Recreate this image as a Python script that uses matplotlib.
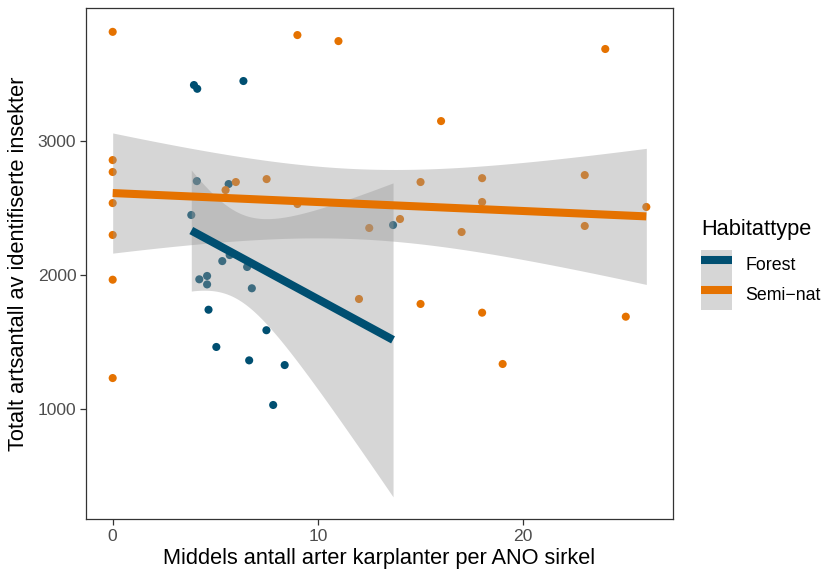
import numpy as np
import matplotlib
matplotlib.use("Agg")
import matplotlib.pyplot as plt
from matplotlib.patches import Patch
from matplotlib.lines import Line2D

plt.rcParams['font.family'] = ['Liberation Sans', 'DejaVu Sans']

# ---- data ----
semi_x = [0, 0, 0, 0, 0, 0, 0, 9, 11, 24, 16, 6, 5.5, 7.5, 9, 12.5, 14, 15, 18, 18, 17,
          23, 23, 26, 12, 15, 18, 25, 19]
semi_y = [3815, 2858, 2769, 2537, 2299, 1965, 1231, 3791, 3746, 3687, 3149, 2694, 2634,
          2716, 2530, 2351, 2418, 2694, 2723, 2545, 2321, 2746, 2366, 2508, 1821, 1784,
          1719, 1689, 1336]
forest_x = [3.96, 4.12, 6.37, 4.1, 5.65, 3.83, 13.66, 5.34, 5.7, 6.55, 4.22, 4.6, 4.6,
            6.78, 4.67, 7.49, 5.05, 6.65, 8.38, 7.82]
forest_y = [3418, 3390, 3448, 2701, 2679, 2448, 2373, 2104, 2149, 2060, 1968, 1993, 1930,
            1901, 1741, 1588, 1463, 1363, 1328, 1030]

groups = ["Forest", "Semi\u2212nat"]
colors = {"Forest": "#004F71", "Semi\u2212nat": "#E57200"}
xticks = [0, 10, 20]
yticks = [1000, 2000, 3000]
xlabel = "Middels antall arter karplanter per ANO sirkel"
ylabel = "Totalt artsantall av identifiserte insekter"
legend_title = "Habitattype"


def t975(df):
    z = 1.959963985
    return (z + (z**3 + z) / (4 * df) + (5 * z**5 + 16 * z**3 + 3 * z) / (96 * df**2)
            + (3 * z**7 + 19 * z**5 + 17 * z**3 - 15 * z) / (384 * df**3))


def lm_band(x, y, n=80):
    x = np.asarray(x, float)
    y = np.asarray(y, float)
    b1, b0 = np.polyfit(x, y, 1)
    resid = y - (b0 + b1 * x)
    df = len(x) - 2
    s = np.sqrt(np.sum(resid**2) / df)
    xbar = x.mean()
    sxx = np.sum((x - xbar) ** 2)
    xs = np.linspace(x.min(), x.max(), n)
    fit = b0 + b1 * xs
    se = s * np.sqrt(1 / len(x) + (xs - xbar) ** 2 / sxx)
    t = t975(df)
    return xs, fit, fit - t * se, fit + t * se


W, H = 826, 573
fig = plt.figure(figsize=(W / 100, H / 100), dpi=100)
ax = fig.add_axes([86 / W, 1 - 519 / H, (673 - 86) / W, (519 - 8) / H])

data = {"Forest": (forest_x, forest_y), "Semi\u2212nat": (semi_x, semi_y)}
ms = 34
for g in groups:
    x, y = data[g]
    ax.scatter(x, y, s=ms, color=colors[g], edgecolors='none', zorder=2)

for g in groups:
    x, y = data[g]
    xs, fit, lo, hi = lm_band(x, y)
    ax.fill_between(xs, lo, hi, color='#999999', alpha=0.4, linewidth=0, zorder=3)
for g in groups:
    x, y = data[g]
    xs, fit, lo, hi = lm_band(x, y)
    ax.plot(xs, fit, color=colors[g], lw=5.8, solid_capstyle='butt', zorder=4)

ax.set_xlim(-1.3, 27.3)
ax.set_ylim(179, 3993)
ax.set_xticks(xticks)
ax.set_yticks(yticks)
ax.set_xticklabels([str(v) for v in xticks])
ax.set_yticklabels([str(v) for v in yticks])
for sp in ax.spines.values():
    sp.set_color('#333333')
    sp.set_linewidth(0.9)
ax.tick_params(axis='both', colors='#333333', length=4, width=0.9, direction='out',
               labelsize=12.6, labelcolor='#4D4D4D', pad=3)
ax.set_xlabel(xlabel, fontsize=15.7, color='black', labelpad=3)
ax.set_ylabel(ylabel, fontsize=15.7, color='black', labelpad=6)

handles = [(Patch(facecolor='#999999', alpha=0.4, edgecolor='none'),
            Line2D([], [], color=colors[g], lw=5.8, solid_capstyle='butt')) for g in groups]
leg = fig.legend(handles, groups, title=legend_title, loc='upper left',
                 bbox_to_anchor=(701 / W, 1 - 219 / H), frameon=False,
                 fontsize=12.8, title_fontsize=15.7, handlelength=1.74, handleheight=2.22,
                 labelspacing=0.0, handletextpad=0.75, borderpad=0, borderaxespad=0,
                 alignment='left')
leg._legend_box.sep = 7

fig.savefig("out.png", dpi=100)
